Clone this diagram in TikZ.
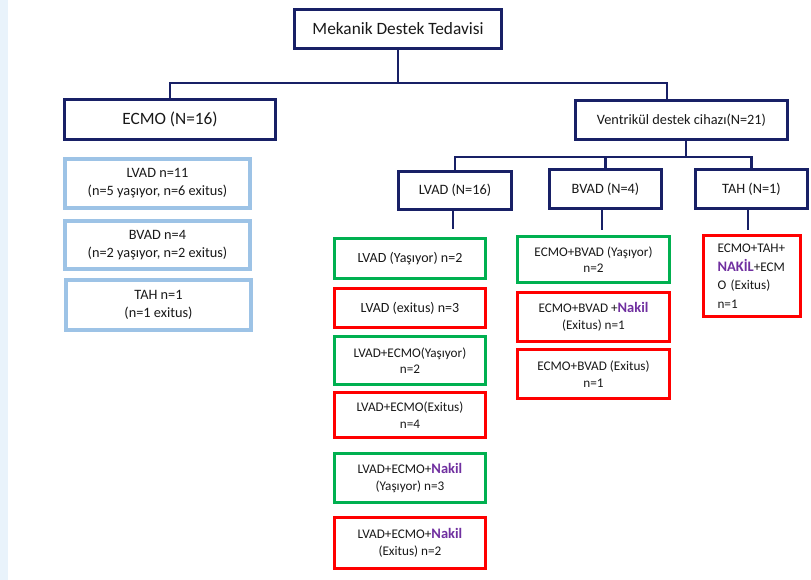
\documentclass[tikz,border=0pt]{standalone}
\usepackage{fontspec}
\setmainfont{Carlito}
\usetikzlibrary{calc}
\definecolor{navy}{RGB}{24,32,102}
\definecolor{lightblue}{RGB}{157,195,230}
\definecolor{wgreen}{RGB}{0,176,80}
\definecolor{wred}{RGB}{255,0,0}
\definecolor{nakilc}{RGB}{112,48,160}
\definecolor{stripblue}{RGB}{233,243,251}
\definecolor{txt}{RGB}{25,25,25}
\newcommand\fsBig{\fontsize{17.3}{20}\selectfont}
\newcommand\fsMid{\fontsize{14.3}{18}\selectfont}
\newcommand\fsSmall{\fontsize{13.2}{16.5}\selectfont}
\newcommand\nakilw[1]{{\fontsize{14.5}{17}\selectfont\bfseries\color{nakilc}#1}}
\begin{document}
\begin{tikzpicture}[x=1pt,y=-1pt,
  box/.style={rectangle, inner sep=0pt, align=center, text=txt, fill=white},
  nv/.style={box, draw=navy, line width=3pt},
  lb/.style={box, draw=lightblue, line width=4pt, font=\fsMid},
  gr/.style={box, draw=wgreen, line width=3.5pt, font=\fsSmall},
  rd/.style={box, draw=wred, line width=3.5pt, font=\fsSmall},
  conn/.style={draw=navy, line width=2.6pt}]
\useasboundingbox (0,0) rectangle (811,580);
\fill[stripblue] (0,0) rectangle (8,580);

% level 0 and 1
\node[nv, minimum width=207pt, minimum height=39pt, font=\fsBig] (top) at (398,29) {Mekanik Destek Tedavisi};
\node[nv, minimum width=211pt, minimum height=40pt, font=\fsBig] (ecmo) at (170,119.5) {ECMO (N=16)};
\node[nv, minimum width=212pt, minimum height=39pt, font=\fsMid] (vent) at (681.5,120) {Ventrikül destek cihazı(N=21)};

% level 2
\node[nv, minimum width=113pt, minimum height=38pt, font=\fsMid] (lvad) at (455,190.5) {LVAD (N=16)};
\node[nv, minimum width=112pt, minimum height=39pt, font=\fsMid] (bvad) at (605.5,189) {BVAD (N=4)};
\node[nv, minimum width=112pt, minimum height=39pt, font=\fsMid] (tah) at (751.5,189) {TAH (N=1)};

% ECMO children
\node[lb, minimum width=185pt, minimum height=49pt] (e1) at (157.5,183.5) {LVAD n=11\\(n=5 yaşıyor, n=6 exitus)};
\node[lb, minimum width=185pt, minimum height=48pt] (e2) at (157.5,245) {BVAD n=4\\(n=2 yaşıyor, n=2 exitus)};
\node[lb, minimum width=185pt, minimum height=50pt] (e3) at (158.5,305) {TAH n=1\\(n=1 exitus)};

% LVAD children
\node[gr, minimum width=151pt, minimum height=40pt, font=\fontsize{14}{17}\selectfont] (c1) at (410,258.5) {LVAD (Yaşıyor) n=2};
\node[rd, minimum width=151pt, minimum height=39pt, font=\fontsize{14}{17}\selectfont] (c2) at (410,308) {LVAD (exitus) n=3};
\node[gr, minimum width=151pt, minimum height=48pt] (c3) at (410,360.5) {LVAD+ECMO(Yaşıyor)\\n=2};
\node[rd, minimum width=151pt, minimum height=45pt] (c4) at (410,415) {LVAD+ECMO(Exitus)\\n=4};
\node[gr, minimum width=151pt, minimum height=49pt] (c5) at (410,478) {LVAD+ECMO+\nakilw{Nakil}\\(Yaşıyor) n=3};
\node[rd, minimum width=151pt, minimum height=51pt] (c6) at (410,543) {LVAD+ECMO+\nakilw{Nakil}\\(Exitus) n=2};

% BVAD children
\node[gr, minimum width=152pt, minimum height=46pt] (d1) at (593.5,259.5) {ECMO+BVAD (Yaşıyor)\\n=2};
\node[rd, minimum width=152pt, minimum height=49pt] (d2) at (593.5,317) {ECMO+BVAD +\nakilw{Nakil}\\(Exitus) n=1};
\node[rd, minimum width=152pt, minimum height=49pt] (d3) at (593.5,374) {ECMO+BVAD (Exitus)\\n=1};

% TAH child
\node[rd, minimum width=97pt, minimum height=81pt, align=left, text width=69pt, inner xsep=14pt, font=\fontsize{13.2}{18.5}\selectfont] (t1) at (752,276) {ECMO+TAH+\\\nakilw{NAKİL}+ECM\\O (Exitus)\\n=1};

% connectors
\coordinate (jr) at (667,83);
\coordinate (k) at (686,157);
\coordinate (lvadend) at (453,229);
\coordinate (bvadend) at (602,230);
\coordinate (tahend) at (748,230);
\draw[conn] (top.south) -- (top.south |- jr);
\draw[conn] (ecmo.north) |- (jr) -- (jr |- vent.north);
\draw[conn] (vent.south -| k) -- (k);
\draw[conn] (lvad.north) |- (tah.north |- k) -- (tah.north);
\draw[conn] (bvad.north) -- (bvad.north |- k);
\draw[conn] (lvad.south -| lvadend) -- (lvadend);
\draw[conn] (bvad.south -| bvadend) -- (bvadend);
\draw[conn] (tah.south -| tahend) -- (tahend);
\end{tikzpicture}
\end{document}
